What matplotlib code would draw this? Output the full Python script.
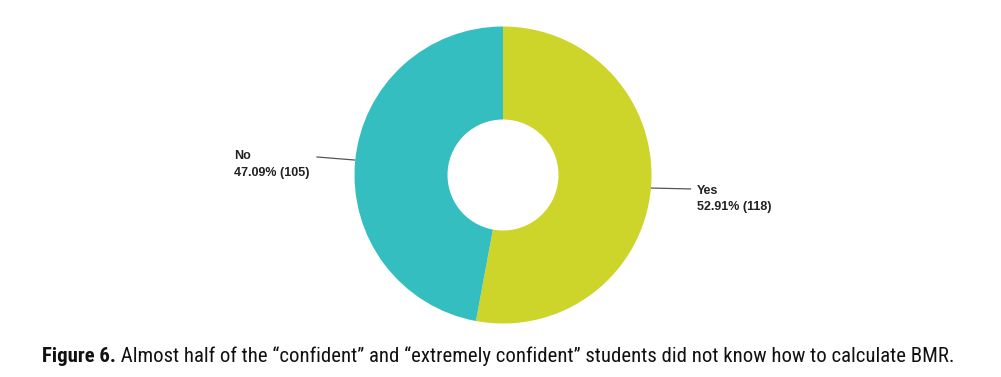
import matplotlib
matplotlib.use("Agg")
import matplotlib.pyplot as plt
from matplotlib import font_manager

# data
labels = ["Yes", "No"]
counts = [118, 105]
percents = [52.91, 47.09]
colors = ["#CDD52B", "#34BEC0"]
caption_bold = "Figure 6."
caption_rest = " Almost half of the \u201cconfident\u201d and \u201cextremely confident\u201d students did not know how to calculate BMR."

W, H = 1001, 377
fig = plt.figure(figsize=(W / 100, H / 100), dpi=100)

# donut: centre (503,175) px, radius ~150 px
cx, cy, r = 503, 175, 150
ax = fig.add_axes([(cx - r) / W, (H - cy - r) / H, 2 * r / W, 2 * r / H])
wedges, _ = ax.pie(counts, colors=colors, startangle=90, counterclock=False,
                   radius=0.99, wedgeprops=dict(width=0.62, linewidth=0))
ax.set_xlim(-1, 1)
ax.set_ylim(-1, 1)
ax.set_aspect("equal")
ax.axis("off")

lab_font = dict(family=["Liberation Sans", "DejaVu Sans"], fontsize=9, fontweight="bold", color="#222222")

# leader lines + labels (positions in axes data units)
ax.plot([0.99, 1.25], [-0.087, -0.093], color="#555555", lw=0.9, clip_on=False)
ax.text(1.293, -0.157, f"{labels[0]}\n{percents[0]:.2f}% ({counts[0]})", ha="left", va="center",
        linespacing=1.45, **lab_font)
ax.plot([-0.99, -1.24], [0.10, 0.12], color="#555555", lw=0.9, clip_on=False)
ax.text(-1.793, 0.07, f"{labels[1]}\n{percents[1]:.2f}% ({counts[1]})", ha="left", va="center",
        linespacing=1.45, **lab_font)

# caption, bold part then regular part; pick a condensed face if one exists
names = {f.name for f in font_manager.fontManager.ttflist}
cap_family = "DejaVu Sans"
for cand in ["Liberation Sans Narrow", "DejaVu Sans Condensed", "Roboto Condensed", "Open Sans Condensed"]:
    if cand in names:
        cap_family = cand
        break

y_cap = 1 - 356 / H
x0, x1 = 42, 958
fs = 12.5
t1 = fig.text(x0 / W, y_cap, caption_bold, ha="left", va="center", fontsize=fs,
              fontweight="bold", family=cap_family, color="#111111")
fig.canvas.draw()
bb = t1.get_window_extent()
t2 = fig.text(bb.x1 / W, y_cap, caption_rest, ha="left", va="center", fontsize=fs,
              family=cap_family, color="#111111")
fig.canvas.draw()
total = t2.get_window_extent().x1 - x0
fs = fs * (x1 - x0) / total
t1.set_fontsize(fs)
fig.canvas.draw()
bb = t1.get_window_extent()
t2.set_fontsize(fs)
t2.set_x(bb.x1 / W)

fig.savefig("out.png", dpi=100)
